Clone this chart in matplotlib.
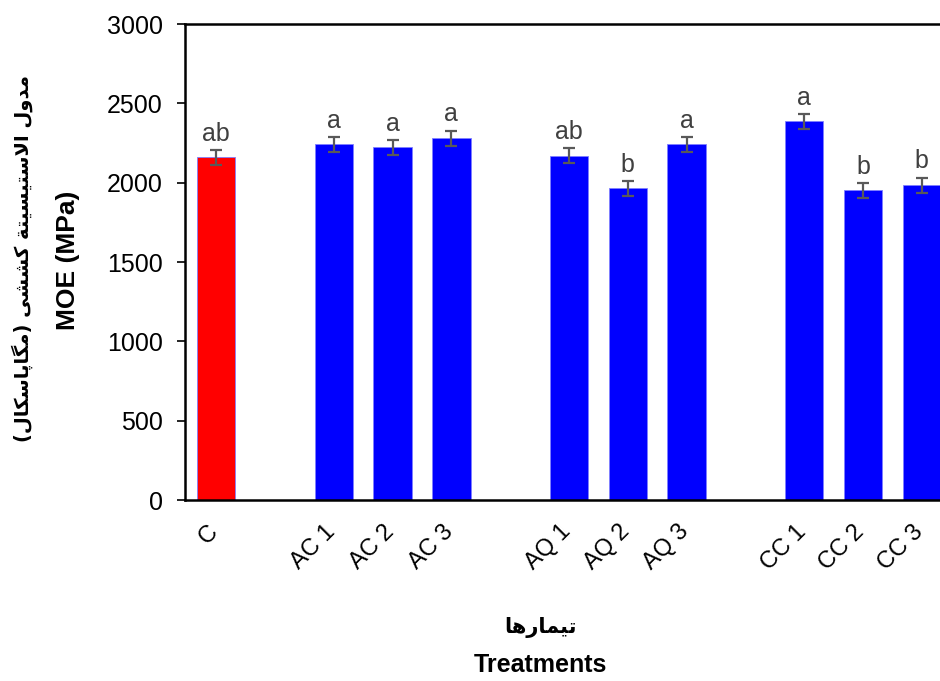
import numpy as np
import matplotlib
matplotlib.use("Agg")
import matplotlib.pyplot as plt
import matplotlib.transforms as mtransforms

# ─────────────────────────────────────────────────────────────
# DATA
# ─────────────────────────────────────────────────────────────
treatments = ["C", "AC 1", "AC 2", "AC 3", "AQ 1", "AQ 2", "AQ 3", "CC 1", "CC 2", "CC 3"]
slots = [0, 2, 3, 4, 6, 7, 8, 10, 11, 12]          # gaps between the groups
moe = [2160, 2242, 2224, 2281, 2170, 1964, 2241, 2386, 1951, 1985]
moe_err = [46, 47, 47, 47, 48, 48, 47, 46, 48, 47]
letters = ["ab", "a", "a", "a", "ab", "b", "a", "a", "b", "b"]
bar_colors = ["#FF0000"] + ["#0000FF"] * 9
y_ticks = [0, 500, 1000, 1500, 2000, 2500, 3000]

ylabel_fa = "مدول الاستیسیتة کششی (مگاپاسکال)"
xlabel_fa = "تیمارها"


# ─────────────────────────────────────────────────────────────
# tiny Persian shaper (matplotlib does no shaping / bidi)
# forms: isolated, final, initial, medial
# ─────────────────────────────────────────────────────────────
FORMS = {
    "ا": ("\uFE8D", "\uFE8E", None, None),
    "د": ("\uFEA9", "\uFEAA", None, None),
    "ر": ("\uFEAD", "\uFEAE", None, None),
    "و": ("\uFEED", "\uFEEE", None, None),
    "ة": ("\uFE93", "\uFE94", None, None),
    "ه": ("\uFEE9", "\uFEEA", "\uFEEB", "\uFEEC"),
    "م": ("\uFEE1", "\uFEE2", "\uFEE3", "\uFEE4"),
    "ل": ("\uFEDD", "\uFEDE", "\uFEDF", "\uFEE0"),
    "س": ("\uFEB1", "\uFEB2", "\uFEB3", "\uFEB4"),
    "ش": ("\uFEB5", "\uFEB6", "\uFEB7", "\uFEB8"),
    "ت": ("\uFE95", "\uFE96", "\uFE97", "\uFE98"),
    "ی": ("\uFBFC", "\uFBFD", "\uFBFE", "\uFBFF"),
    "ک": ("\uFB8E", "\uFB8F", "\uFB90", "\uFB91"),
    "گ": ("\uFB92", "\uFB93", "\uFB94", "\uFB95"),
    "پ": ("\uFB56", "\uFB57", "\uFB58", "\uFB59"),
}


def dual(ch):
    return ch in FORMS and FORMS[ch][2] is not None


def shape_fa(text):
    out = []
    i = 0
    while i < len(text):
        c = text[i]
        prev = text[i - 1] if i > 0 else ""
        nxt = text[i + 1] if i + 1 < len(text) else ""
        if c not in FORMS:
            out.append(c)
            i += 1
            continue
        jp = dual(prev)
        if c == "ل" and nxt == "ا":
            out.append("\uFEFC" if jp else "\uFEFB")
            i += 2
            continue
        jn = dual(c) and nxt in FORMS
        iso, fin, ini, med = FORMS[c]
        if jp and jn:
            out.append(med)
        elif jp:
            out.append(fin)
        elif jn:
            out.append(ini)
        else:
            out.append(iso)
        i += 1
    vis = "".join(reversed(out))
    return vis.translate(str.maketrans("()", ")("))


plt.rcParams["font.family"] = ["Liberation Sans", "DejaVu Sans"]

fig = plt.figure(figsize=(9.4, 6.81), dpi=100, facecolor="white")
ax = fig.add_axes([185 / 940, 181 / 681, (953 - 185) / 940, 476 / 681])

ax.bar(slots, moe, width=0.65, color=bar_colors, edgecolor="#8080ff", linewidth=0.6)
ax.errorbar(slots, moe, yerr=moe_err, fmt="none", ecolor="#595959",
            elinewidth=1.6, capsize=4.5, capthick=1.6)

for x, v, e, s in zip(slots, moe, moe_err, letters):
    ax.annotate(s, (x, v + e), xytext=(0, 3), textcoords="offset points",
                ha="center", va="bottom", fontsize=18, color="#404040")

ax.set_xlim(-0.53, 12.53)
ax.set_ylim(0, 3000)
ax.set_yticks(y_ticks)
ax.set_xticks(slots)
ax.set_xticklabels(treatments, rotation=45, ha="right", va="top")

ax.tick_params(axis="y", direction="out", length=6, width=1.2, pad=10, labelsize=18)
ax.tick_params(axis="x", length=0, pad=15, labelsize=17)

# nudge the rotated category labels a little to the right, like the original
shift = mtransforms.ScaledTranslation(6 / 100, 0, fig.dpi_scale_trans)
for lbl in ax.get_xticklabels():
    lbl.set_transform(lbl.get_transform() + shift)

for side in ["left", "bottom", "top"]:
    ax.spines[side].set_linewidth(1.8)
    ax.spines[side].set_color("black")
ax.spines["right"].set_visible(False)

# axis titles (Persian + English)
fig.text(22 / 940, 1 - 258 / 681, shape_fa(ylabel_fa), rotation=90, ha="center", va="center",
         fontsize=14, fontweight="bold", family=["DejaVu Sans"])
fig.text(68 / 940, 1 - 260 / 681, "MOE (MPa)", rotation=90, ha="center", va="center",
         fontsize=19, fontweight="bold")
fig.text(540 / 940, 1 - 627 / 681, shape_fa(xlabel_fa), ha="center", va="center",
         fontsize=15, fontweight="bold", family=["DejaVu Sans"])
fig.text(540 / 940, 1 - 665 / 681, "Treatments", ha="center", va="center",
         fontsize=18, fontweight="bold")

fig.savefig("out.png", dpi=100, facecolor="white")
